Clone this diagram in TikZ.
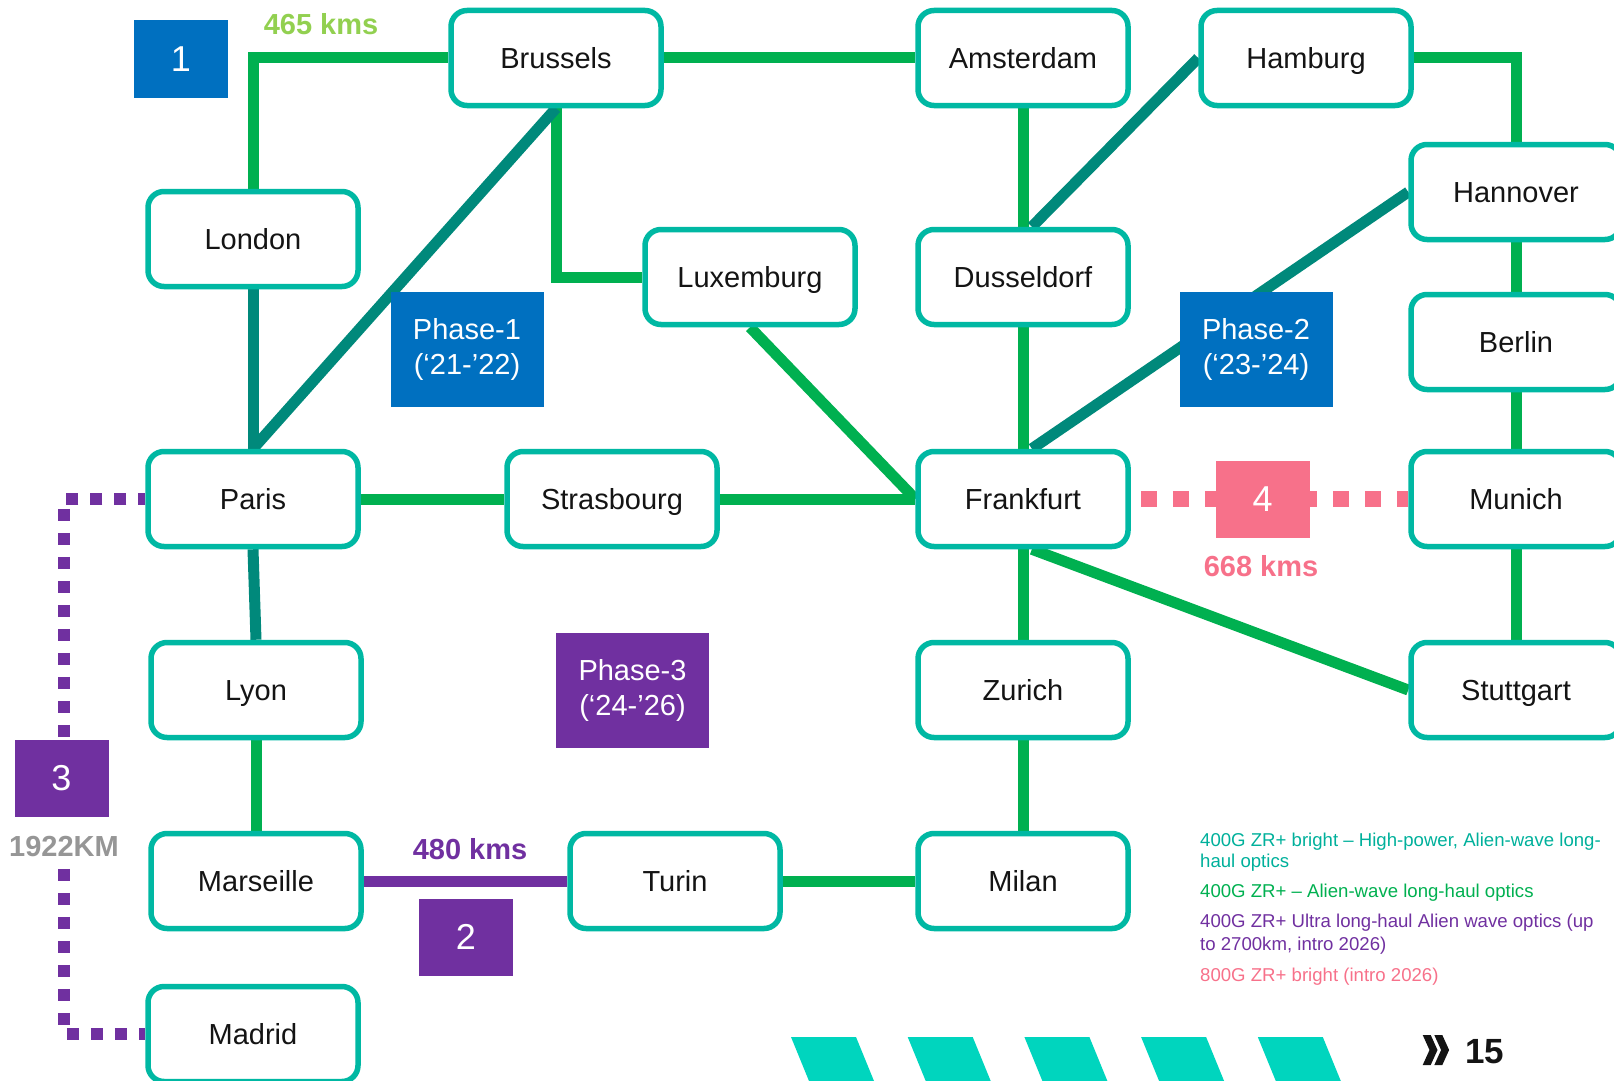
\documentclass[tikz,border=0pt]{standalone}
\usepackage{fontspec}
\setmainfont{Liberation Sans}
\usetikzlibrary{calc}
\definecolor{boxteal}{HTML}{00B8A3}
\definecolor{lgreen}{HTML}{00B050}
\definecolor{dteal}{HTML}{00897B}
\definecolor{pblue}{HTML}{0070C0}
\definecolor{purp}{HTML}{7030A0}
\definecolor{pinkc}{HTML}{F7718A}
\definecolor{kmgreen}{HTML}{92D050}
\definecolor{kmgray}{HTML}{969696}
\definecolor{stripec}{HTML}{00D5BE}
\definecolor{legteal}{HTML}{00B09B}
\definecolor{txtblack}{HTML}{141414}
\pgfdeclarelayer{bg}
\pgfsetlayers{bg,main}
\begin{document}
\begin{tikzpicture}[x=1pt,y=-1pt,
 city/.style={draw=boxteal, line width=5.5pt, rounded corners=16pt, fill=white,
   minimum width=210pt, minimum height=95pt, inner sep=0pt,
   text height=24pt, text depth=3pt,
   font=\fontsize{29}{34}\selectfont, text=txtblack},
 gline/.style={draw=lgreen, line width=11pt},
 tline/.style={draw=dteal, line width=11pt},
 pline/.style={draw=purp, line width=11pt},
 numbox/.style={fill=#1, text=white, minimum width=94pt, minimum height=77pt,
   inner sep=0pt, font=\fontsize{36}{40}\selectfont},
 phasebox/.style={fill=#1, text=white, minimum width=153pt, minimum height=115pt,
   inner sep=0pt, align=center, font=\fontsize{29}{35}\selectfont},
 kms/.style={text=#1, font=\bfseries\fontsize{29}{34}\selectfont, inner sep=0pt},
 legend/.style={text=#1, anchor=base west, inner sep=0pt, font=\fontsize{18.6}{22}\selectfont},
]
\useasboundingbox (0,0) rectangle (1614,1081);
\clip (0,0) rectangle (1614,1081);

% cities
\node[city] (Brussels)   at (556,58)   {Brussels};
\node[city] (Amsterdam)  at (1023,58)  {Amsterdam};
\node[city] (Hamburg)    at (1306,58)  {Hamburg};
\node[city] (London)     at (253,239)  {London};
\node[city] (Luxemburg)  at (750,277)  {Luxemburg};
\node[city] (Dusseldorf) at (1023,277) {Dusseldorf};
\node[city] (Hannover)   at (1516,192) {Hannover};
\node[city] (Berlin)     at (1516,342) {Berlin};
\node[city] (Paris)      at (253,499)  {Paris};
\node[city] (Strasbourg) at (612,499)  {Strasbourg};
\node[city] (Frankfurt)  at (1023,499) {Frankfurt};
\node[city] (Munich)     at (1516,499) {Munich};
\node[city] (Lyon)       at (256,690)  {Lyon};
\node[city] (Zurich)     at (1023,690) {Zurich};
\node[city] (Stuttgart)  at (1516,690) {Stuttgart};
\node[city] (Marseille)  at (256,881)  {Marseille};
\node[city] (Turin)      at (675,881)  {Turin};
\node[city] (Milan)      at (1023,881) {Milan};
\node[city] (Madrid)     at (253,1034) {Madrid};

\coordinate (c1) at (64,499);
\coordinate (c2) at (64,1034);

\begin{pgfonlayer}{bg}
\draw[gline] (London.north) |- (Brussels.west);
\draw[gline] (Brussels.east) -- (Amsterdam.west);
\draw[gline] (Brussels.south) |- (Luxemburg.west);
\draw[tline] (Brussels.south) -- (Paris.north);
\draw[tline] (London.south) -- (Paris.north);
\draw[gline] (Luxemburg.south) -- (Frankfurt.west);
\draw[gline] (Paris.east) -- (Strasbourg.west);
\draw[gline] (Strasbourg.east) -- (Frankfurt.west);
\draw[gline] (Amsterdam.south) -- (Dusseldorf.north);
\draw[tline] (Hamburg.west) -- (Dusseldorf.80);
\draw[gline] (Hamburg.east) -| (Hannover.north);
\draw[tline] (Hannover.west) -- (Frankfurt.80);
\draw[gline] (Dusseldorf.south) -- (Frankfurt.north);
\draw[gline] (Hannover.south) -- (Berlin.north);
\draw[gline] (Berlin.south) -- (Munich.north);
\draw[gline] (Munich.south) -- (Stuttgart.north);
\draw[gline] (Frankfurt.-80) -- (Stuttgart.west);
\draw[gline] (Frankfurt.south) -- (Zurich.north);
\draw[gline] (Zurich.south) -- (Milan.north);
\draw[gline] (Turin.east) -- (Milan.west);
\draw[pline] (Marseille.east) -- (Turin.west);
\draw[gline] (Lyon.south) -- (Marseille.north);
\draw[tline] (Paris.south) -- (Lyon.north);
\draw[draw=purp, line width=12pt, dash pattern=on 12pt off 12pt, dash phase=5pt]
  (Paris.west) -- (c1) -- (c2) -- (Madrid.west);
\draw[draw=pinkc, line width=16pt, dash pattern=on 16pt off 16pt, dash phase=22pt]
  (Frankfurt.east) -- (Munich.west);
\end{pgfonlayer}

% numbered boxes and labels
\node[kms=kmgray, fill=white, inner xsep=2pt, inner ysep=0pt, text height=40pt, text depth=9pt, anchor=base] (k3) at (64,856.4) {1922KM};
\node[numbox=pblue] (n1) at (181,59) {1};
\node[kms=kmgreen] (k1) at (321,24) {465 kms};
\node[numbox=purp] (n2) at (466,937) {2};
\node[kms=purp] (k2) at (470,849) {480 kms};
\node[numbox=purp] (n3) at (61.5,778.5) {3};
\node[numbox=pinkc] (n4) at (1262.5,499) {4};
\node[kms=pinkc] (k4) at (1261,566) {668 kms};

% phase boxes
\node[phasebox=pblue] (ph1) at (467,349.5) {Phase-1\\(‘21-’22)};
\node[phasebox=pblue] (ph2) at (1256,349) {Phase-2\\(‘23-’24)};
\node[phasebox=purp]  (ph3) at (632.5,690.5) {Phase-3\\(‘24-’26)};

% legend
\node[legend=legteal] (l1a) at (1200,846) {400G ZR+ bright – High-power, Alien-wave long-};
\node[legend=legteal] (l1b) at (1200,867.5) {haul optics};
\node[legend=lgreen]  (l2)  at (1200,897.5) {400G ZR+ – Alien-wave long-haul optics};
\node[legend=purp]    (l3a) at (1200,927) {400G ZR+ Ultra long-haul Alien wave optics (up};
\node[legend=purp]    (l3b) at (1200,950) {to 2700km, intro 2026)};
\node[legend=pinkc]   (l4)  at (1200,981) {800G ZR+ bright (intro 2026)};

% bottom stripes
\foreach \i in {0,...,4}{
  \fill[stripec, xshift=\i*116.7pt] (791,1037) -- (856,1037) -- (874,1081) -- (809,1081) -- cycle;
}
% page marker
\fill[txtblack] (1422.7,1035) -- (1430.7,1035) -- (1437.5,1050) -- (1430.7,1065) -- (1422.7,1065) -- (1429.5,1050) -- cycle;
\fill[txtblack] (1434.3,1035) -- (1442.3,1035) -- (1449.1,1050) -- (1442.3,1065) -- (1434.3,1065) -- (1441.1,1050) -- cycle;
\node[anchor=base west, inner sep=0pt, text=txtblack, font=\bfseries\fontsize{35}{40}\selectfont] (pg) at (1465,1063) {15};
\end{tikzpicture}
\end{document}
